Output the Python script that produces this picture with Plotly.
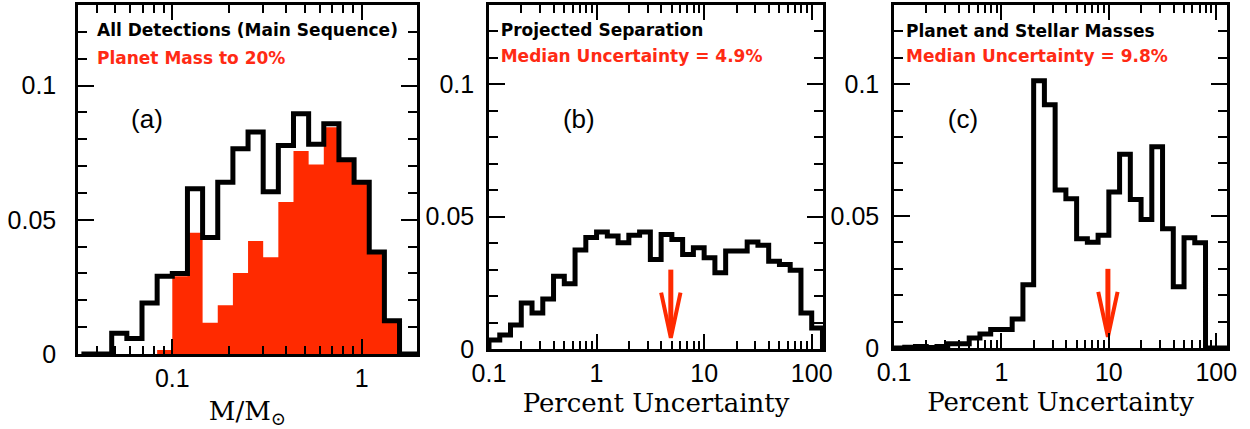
import numpy as np
import plotly.graph_objects as go

# ---------------- data ----------------
# Panel (a): host star mass histogram, log10 bin edges (0.08 dex bins)
a_edges_log = [-1.48, -1.40, -1.32, -1.24, -1.16, -1.08, -1.00, -0.92, -0.84, -0.76,
               -0.68, -0.60, -0.52, -0.44, -0.36, -0.28, -0.20, -0.12, -0.04, 0.04,
               0.12, 0.20, 0.28, 0.36]
a_all = [0.0, 0.0, 0.0077, 0.0058, 0.0190, 0.0290, 0.0300, 0.0616, 0.0434, 0.0640,
         0.0765, 0.0827, 0.0604, 0.0777, 0.0895, 0.0781, 0.0858, 0.0724, 0.0640,
         0.0380, 0.0124, 0.0, 0.0]
a_planet20 = [0.0, 0.0, 0.0, 0.0, 0.0, 0.0015, 0.0290, 0.0452, 0.0116, 0.0182,
              0.0302, 0.0421, 0.0360, 0.0566, 0.0756, 0.0706, 0.0845, 0.0724, 0.0640,
              0.0380, 0.0124, 0.0, 0.0]

# Panels (b), (c): percent uncertainty histograms, log10 bin edges (0.1 dex bins)
bc_edges_log = [round(-1.0 + 0.1 * k, 2) for k in range(32)]
b_sep = [0.0034, 0.0053, 0.0091, 0.0174, 0.0136, 0.0189, 0.0275, 0.0247, 0.0374, 0.0421,
         0.0442, 0.0427, 0.0402, 0.0430, 0.0442, 0.0338, 0.0433, 0.0414, 0.0357, 0.0383,
         0.0345, 0.0288, 0.0370, 0.0370, 0.0404, 0.0392, 0.0332, 0.0319, 0.0298, 0.0136,
         0.0079]
c_mass = [0.0, 0.0003, 0.0006, 0.0002, 0.0006, 0.0016, 0.0016, 0.0038, 0.0053, 0.0070,
          0.0070, 0.0110, 0.0240, 0.1013, 0.0922, 0.0599, 0.0566, 0.0414, 0.0401, 0.0427,
          0.0591, 0.0734, 0.0563, 0.0487, 0.0763, 0.0452, 0.0232, 0.0418, 0.0399, 0.0,
          0.0]
median_b = 4.9
median_c = 9.8

# text
a_line1 = "All Detections (Main Sequence)"
a_line2 = "Planet Mass to 20%"
b_line1 = "Projected Separation"
b_line2 = "Median Uncertainty = 4.9%"
c_line1 = "Planet and Stellar Masses"
c_line2 = "Median Uncertainty = 9.8%"
y_tickvals = [0, 0.05, 0.1]
a_xtickvals = [0.1, 1]
bc_xtickvals = [0.1, 1, 10, 100]

# ---------------- style ----------------
RED = "#FF2A00"
RED_TXT = "#FF2A14"
TICK_FONT = dict(family="Liberation Sans", size=25, color="black")
TITLE_FONT = dict(family="DejaVu Serif", size=26, color="black")
NOTE_FONT = "DejaVu Sans"
YMAX = 0.13
ARROW_TOP, ARROW_HEAD, ARROW_TIP, HEAD_HALF = 0.030, 0.0213, 0.0042, 0.09


def step_xy(edges_log, vals):
    x = [10 ** edges_log[0]] + [10 ** e for e in edges_log]
    y = [0.0] + list(vals) + [0.0]
    return x, y


def minor_log(lo, hi):
    out = []
    for d in range(int(np.floor(lo)) - 1, int(np.ceil(hi)) + 1):
        for m in range(2, 10):
            v = float(m * 10.0 ** d)
            if 10 ** lo < v < 10 ** hi:
                out.append(v)
    return out


xranges = {"a": [-1.498, 0.292], "b": [-1.0, 2.105], "c": [-1.0, 2.10]}
xdom = {"a": [0.0, 0.2950], "b": [0.3577, 0.6484], "c": [0.7102, 1.0]}
ydom = {"a": [0.0, 1.0], "b": [0.0143, 1.0], "c": [0.0172, 1.0]}
y_standoff = {"a": 14, "b": 7, "c": 7}
t_standoff = {"a": 15, "b": 9, "c": 9}
y_minor = [round(0.01 * j, 2) for j in range(1, 13) if j not in (5, 10)]

fig = go.Figure()

# panel a
xa, ya = step_xy(a_edges_log, a_planet20)
fig.add_trace(go.Scatter(x=xa, y=ya, mode="lines", line=dict(width=0, shape="hv"),
                         fill="tozeroy", fillcolor=RED, xaxis="x", yaxis="y",
                         showlegend=False))
xa, ya = step_xy(a_edges_log, a_all)
fig.add_trace(go.Scatter(x=xa, y=ya, mode="lines", line=dict(width=5, shape="hv", color="black"),
                         xaxis="x", yaxis="y", showlegend=False))
# panel b
xb, yb = step_xy(bc_edges_log, b_sep)
fig.add_trace(go.Scatter(x=xb, y=yb, mode="lines", line=dict(width=5, shape="hv", color="black"),
                         xaxis="x2", yaxis="y2", showlegend=False))
# panel c
xc, yc = step_xy(bc_edges_log, c_mass)
fig.add_trace(go.Scatter(x=xc, y=yc, mode="lines", line=dict(width=5, shape="hv", color="black"),
                         xaxis="x3", yaxis="y3", showlegend=False))

# median arrows
for med, xr, yr in [(median_b, "x2", "y2"), (median_c, "x3", "y3")]:
    fig.add_trace(go.Scatter(x=[med, med], y=[ARROW_TOP, ARROW_TIP + 0.002], mode="lines",
                             line=dict(color=RED, width=5), xaxis=xr, yaxis=yr,
                             showlegend=False))
    fig.add_trace(go.Scatter(x=[med * 10 ** -HEAD_HALF, med, med * 10 ** HEAD_HALF],
                             y=[ARROW_HEAD, ARROW_TIP, ARROW_HEAD], mode="lines",
                             line=dict(color=RED, width=4), xaxis=xr, yaxis=yr,
                             showlegend=False))

# panel notes as text traces (positions given as fractions of each panel)
notes = [("a", "x", "y", 0.056, 0.9226, 0.842, a_line1, a_line2, 0.2035, 0.665, "(a)"),
         ("b", "x2", "y2", 0.035, 0.9215, 0.846, b_line1, b_line2, 0.269, 0.66, "(b)"),
         ("c", "x3", "y3", 0.036, 0.918, 0.845, c_line1, c_line2, 0.207, 0.66, "(c)")]


def fx(k, f):
    lo, hi = xranges[k]
    return 10 ** (lo + f * (hi - lo))


for k, xr, yr, tx, ty1, ty2, l1, l2, px, py, lab in notes:
    fig.add_trace(go.Scatter(x=[fx(k, tx)], y=[ty1 * YMAX], mode="text", text=[l1],
                             textposition="middle right", cliponaxis=False,
                             textfont=dict(family=NOTE_FONT, size=17, color="black", weight="bold"),
                             xaxis=xr, yaxis=yr, showlegend=False))
    fig.add_trace(go.Scatter(x=[fx(k, tx)], y=[ty2 * YMAX], mode="text", text=[l2],
                             textposition="middle right", cliponaxis=False,
                             textfont=dict(family=NOTE_FONT, size=17, color=RED_TXT, weight="bold"),
                             xaxis=xr, yaxis=yr, showlegend=False))
    fig.add_trace(go.Scatter(x=[fx(k, px)], y=[py * YMAX], mode="text", text=[lab],
                             textposition="middle center", cliponaxis=False,
                             textfont=dict(family="Liberation Sans", size=26, color="black"),
                             xaxis=xr, yaxis=yr, showlegend=False))

base = dict(showline=True, linecolor="black", linewidth=2.5, mirror="ticks",
            ticks="inside", tickwidth=2, tickcolor="black", showgrid=False,
            zeroline=False, automargin=False)

layout_axes = {}
panels = [("a", a_xtickvals), ("b", bc_xtickvals), ("c", bc_xtickvals)]
for i, (k, tv) in enumerate(panels):
    sfx = "" if i == 0 else str(i + 1)
    osfx = str(i + 4)
    title_txt = "M/M<sub>⊙</sub>" if k == "a" else "Percent Uncertainty"
    # main axes: frame, major ticks and labels
    layout_axes["xaxis" + sfx] = dict(
        base, type="log", range=xranges[k], domain=xdom[k], anchor="y" + sfx,
        tickvals=tv, ticklen=15, tickfont=TICK_FONT,
        title=dict(text=title_txt, font=TITLE_FONT, standoff=t_standoff[k]))
    layout_axes["yaxis" + sfx] = dict(
        base, range=[0, YMAX], domain=ydom[k], anchor="x" + sfx,
        tickvals=y_tickvals, ticklen=16, tickfont=TICK_FONT,
        ticklabelstandoff=y_standoff[k])
    # overlay axes: major + minor tick marks only
    layout_axes["xaxis" + osfx] = dict(
        base, type="log", range=xranges[k], overlaying="x" + sfx, anchor="y" + osfx,
        tickvals=tv, ticklen=15, showticklabels=False,
        minor=dict(tickvals=minor_log(*xranges[k]), ticks="inside", ticklen=8))
    layout_axes["yaxis" + osfx] = dict(
        base, range=[0, YMAX], overlaying="y" + sfx, anchor="x" + osfx,
        tickvals=y_tickvals, ticklen=16, showticklabels=False,
        minor=dict(tickvals=y_minor, ticks="inside", ticklen=9))
    fig.add_trace(go.Scatter(x=[], y=[], mode="lines", xaxis="x" + osfx, yaxis="y" + osfx,
                             showlegend=False))

fig.update_layout(width=1250, height=429, margin=dict(l=78, r=23, t=5, b=75),
                  paper_bgcolor="white", plot_bgcolor="white", showlegend=False,
                  **layout_axes)

fig.write_html("out.html", config={"displayModeBar": False},
               post_script="document.body.style.margin='0';")
